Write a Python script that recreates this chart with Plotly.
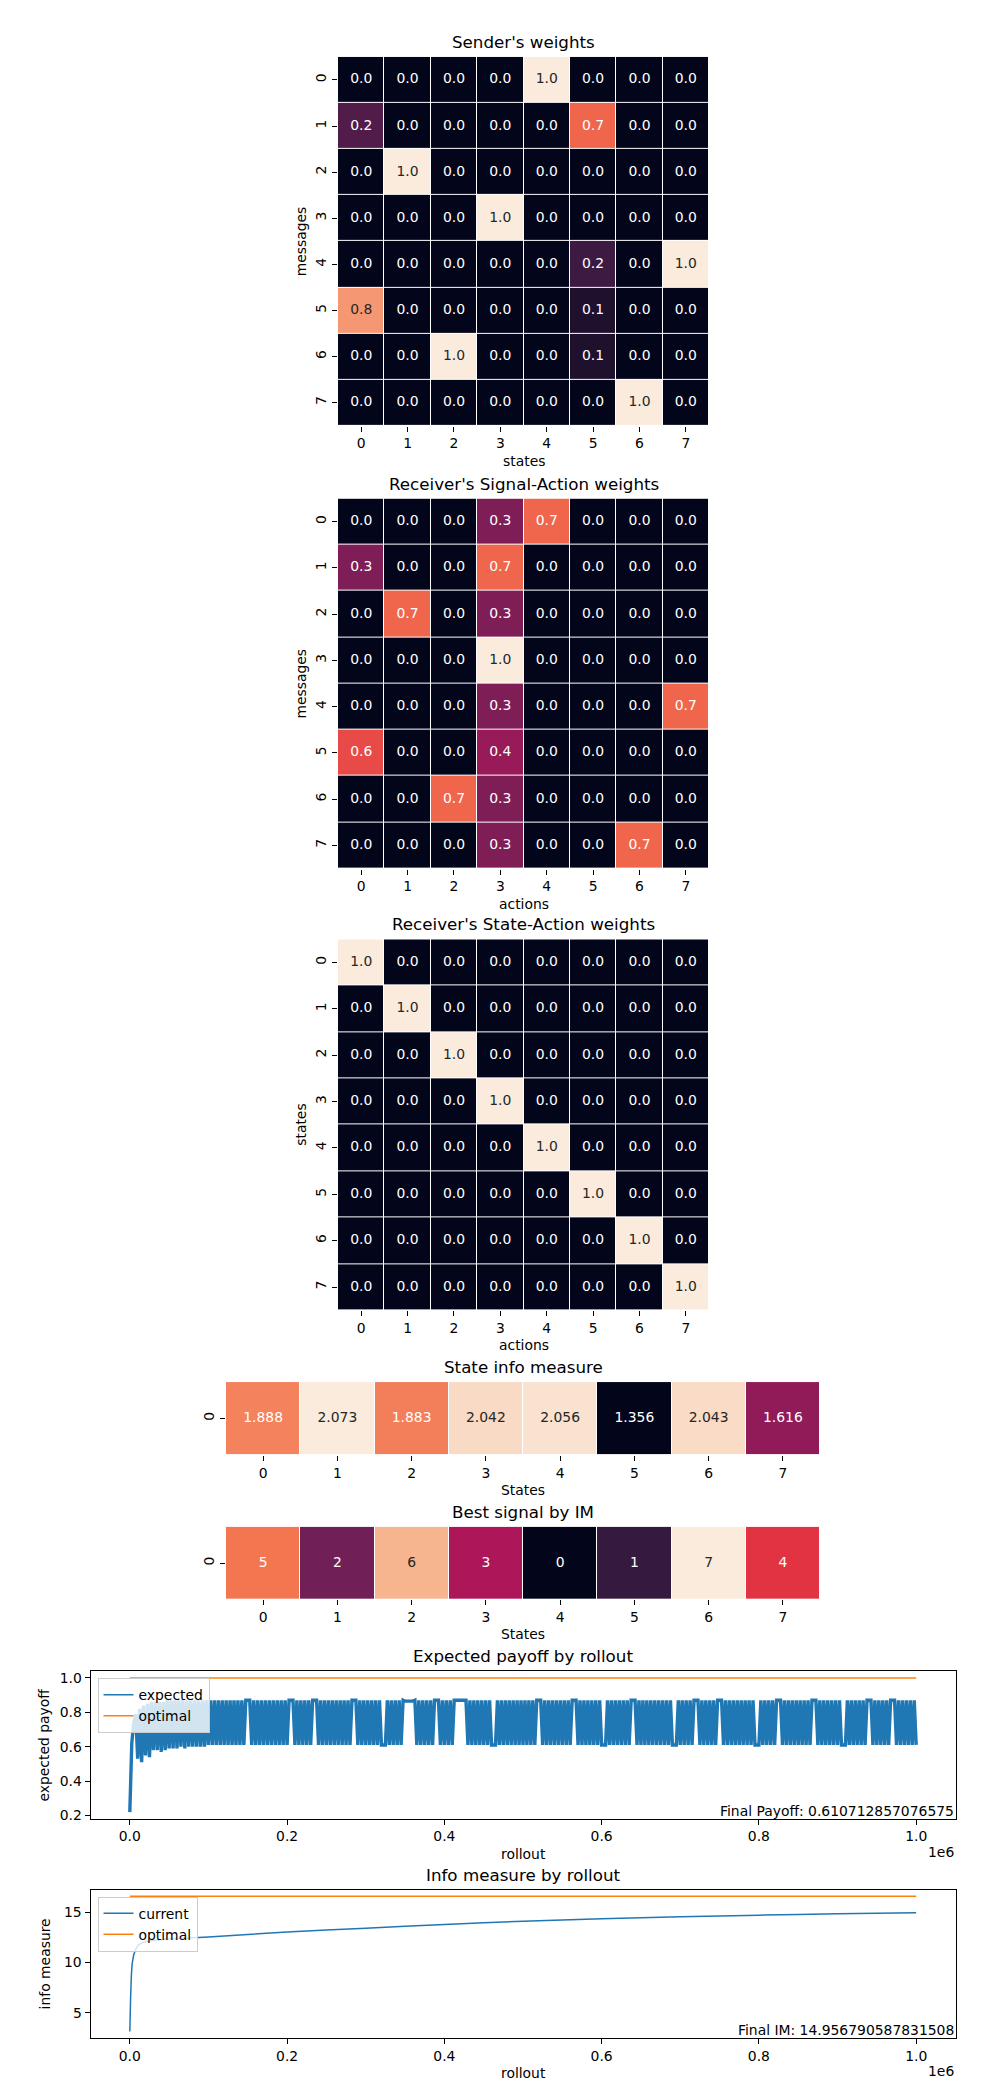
import plotly.graph_objects as go

# ---------------- data ----------------
idx8 = [0, 1, 2, 3, 4, 5, 6, 7]

sender_weights = [
    [0.0, 0.0, 0.0, 0.0, 1.0, 0.0, 0.0, 0.0],
    [0.21, 0.0, 0.0, 0.0, 0.0, 0.68, 0.0, 0.0],
    [0.0, 1.0, 0.0, 0.0, 0.0, 0.0, 0.0, 0.0],
    [0.0, 0.0, 0.0, 1.0, 0.0, 0.0, 0.0, 0.0],
    [0.0, 0.0, 0.0, 0.0, 0.0, 0.16, 0.0, 1.0],
    [0.79, 0.0, 0.0, 0.0, 0.0, 0.08, 0.0, 0.0],
    [0.0, 0.0, 1.0, 0.0, 0.0, 0.08, 0.0, 0.0],
    [0.0, 0.0, 0.0, 0.0, 0.0, 0.0, 1.0, 0.0],
]

signal_action_weights = [
    [0.0, 0.0, 0.0, 0.32, 0.68, 0.0, 0.0, 0.0],
    [0.32, 0.0, 0.0, 0.68, 0.0, 0.0, 0.0, 0.0],
    [0.0, 0.68, 0.0, 0.32, 0.0, 0.0, 0.0, 0.0],
    [0.0, 0.0, 0.0, 1.0, 0.0, 0.0, 0.0, 0.0],
    [0.0, 0.0, 0.0, 0.32, 0.0, 0.0, 0.0, 0.68],
    [0.62, 0.0, 0.0, 0.38, 0.0, 0.0, 0.0, 0.0],
    [0.0, 0.0, 0.68, 0.32, 0.0, 0.0, 0.0, 0.0],
    [0.0, 0.0, 0.0, 0.32, 0.0, 0.0, 0.68, 0.0],
]

state_action_weights = [
    [1.0, 0.0, 0.0, 0.0, 0.0, 0.0, 0.0, 0.0],
    [0.0, 1.0, 0.0, 0.0, 0.0, 0.0, 0.0, 0.0],
    [0.0, 0.0, 1.0, 0.0, 0.0, 0.0, 0.0, 0.0],
    [0.0, 0.0, 0.0, 1.0, 0.0, 0.0, 0.0, 0.0],
    [0.0, 0.0, 0.0, 0.0, 1.0, 0.0, 0.0, 0.0],
    [0.0, 0.0, 0.0, 0.0, 0.0, 1.0, 0.0, 0.0],
    [0.0, 0.0, 0.0, 0.0, 0.0, 0.0, 1.0, 0.0],
    [0.0, 0.0, 0.0, 0.0, 0.0, 0.0, 0.0, 1.0],
]

state_info_measure = [1.888, 2.073, 1.883, 2.042, 2.056, 1.356, 2.043, 1.616]
best_signal_by_im = [5, 2, 6, 3, 0, 1, 7, 4]

payoff_rollout_step = 2500
expected_payoff = [
    0.22, 0.62, 0.74, 0.79, 0.53, 0.82, 0.51, 0.84, 0.55, 0.85, 0.54, 0.86, 0.58, 0.86, 0.58, 0.86, 0.57, 0.86, 0.58, 0.87,
    0.59, 0.87, 0.59, 0.87, 0.59, 0.87, 0.6, 0.87, 0.59, 0.87, 0.6, 0.87, 0.6, 0.87, 0.6, 0.87, 0.6, 0.87, 0.6, 0.87,
    0.61, 0.87, 0.61, 0.87, 0.61, 0.87, 0.61, 0.87, 0.61, 0.87, 0.61, 0.87, 0.61, 0.87, 0.61, 0.87, 0.61, 0.87, 0.61, 0.87,
    0.87, 0.87, 0.61, 0.87, 0.61, 0.87, 0.61, 0.87, 0.61, 0.87, 0.61, 0.87, 0.61, 0.87, 0.61, 0.87, 0.61, 0.87, 0.61, 0.87,
    0.61, 0.87, 0.87, 0.87, 0.61, 0.87, 0.61, 0.87, 0.61, 0.87, 0.61, 0.87, 0.61, 0.87, 0.87, 0.87, 0.61, 0.87, 0.61, 0.87,
    0.61, 0.87, 0.61, 0.87, 0.61, 0.87, 0.61, 0.87, 0.61, 0.87, 0.61, 0.87, 0.61, 0.87, 0.87, 0.87, 0.61, 0.87, 0.61, 0.87,
    0.61, 0.87, 0.61, 0.87, 0.61, 0.87, 0.61, 0.87, 0.61, 0.61, 0.61, 0.87, 0.61, 0.87, 0.61, 0.87, 0.61, 0.87, 0.61, 0.87,
    0.865, 0.865, 0.865, 0.865, 0.865, 0.87, 0.61, 0.87, 0.61, 0.87, 0.61, 0.87, 0.61, 0.87, 0.61, 0.87, 0.87, 0.87, 0.61, 0.87,
    0.61, 0.87, 0.61, 0.87, 0.61, 0.87, 0.87, 0.87, 0.87, 0.87, 0.87, 0.87, 0.61, 0.87, 0.61, 0.87, 0.61, 0.87, 0.61, 0.87,
    0.61, 0.87, 0.61, 0.87, 0.61, 0.61, 0.61, 0.87, 0.61, 0.87, 0.61, 0.87, 0.61, 0.87, 0.61, 0.87, 0.61, 0.87, 0.61, 0.87,
    0.61, 0.87, 0.61, 0.87, 0.61, 0.87, 0.61, 0.87, 0.87, 0.87, 0.61, 0.87, 0.61, 0.87, 0.61, 0.87, 0.61, 0.87, 0.61, 0.87,
    0.61, 0.87, 0.61, 0.87, 0.61, 0.87, 0.87, 0.87, 0.61, 0.87, 0.61, 0.87, 0.61, 0.87, 0.61, 0.87, 0.61, 0.87, 0.61, 0.87,
    0.61, 0.61, 0.61, 0.87, 0.61, 0.87, 0.61, 0.87, 0.61, 0.87, 0.61, 0.87, 0.61, 0.87, 0.61, 0.87, 0.87, 0.87, 0.61, 0.87,
    0.61, 0.87, 0.61, 0.87, 0.61, 0.87, 0.61, 0.87, 0.61, 0.87, 0.61, 0.87, 0.61, 0.87, 0.61, 0.87, 0.61, 0.61, 0.61, 0.87,
    0.61, 0.87, 0.61, 0.87, 0.61, 0.87, 0.61, 0.87, 0.87, 0.87, 0.61, 0.87, 0.61, 0.87, 0.61, 0.87, 0.61, 0.87, 0.61, 0.87,
    0.87, 0.87, 0.61, 0.87, 0.61, 0.87, 0.61, 0.87, 0.61, 0.87, 0.61, 0.87, 0.61, 0.87, 0.61, 0.87, 0.61, 0.87, 0.61, 0.61,
    0.61, 0.87, 0.61, 0.87, 0.61, 0.87, 0.61, 0.87, 0.61, 0.87, 0.87, 0.87, 0.61, 0.87, 0.61, 0.87, 0.61, 0.87, 0.61, 0.87,
    0.61, 0.87, 0.61, 0.87, 0.61, 0.87, 0.61, 0.87, 0.87, 0.87, 0.61, 0.87, 0.61, 0.87, 0.61, 0.87, 0.61, 0.87, 0.61, 0.87,
    0.61, 0.87, 0.61, 0.61, 0.61, 0.87, 0.61, 0.87, 0.61, 0.87, 0.61, 0.87, 0.61, 0.87, 0.61, 0.87, 0.87, 0.87, 0.61, 0.87,
    0.61, 0.87, 0.61, 0.87, 0.61, 0.87, 0.61, 0.87, 0.87, 0.87, 0.61, 0.87, 0.61, 0.87, 0.61, 0.87, 0.61, 0.87, 0.61, 0.87,
    0.610712857076575,
]
optimal_payoff = 1.0

im_rollouts = [0, 1000, 2000, 3000, 5000, 7500, 10000, 15000, 20000, 30000, 50000, 75000, 100000,
               150000, 200000, 250000, 300000, 350000, 400000, 450000, 500000, 550000, 600000,
               650000, 700000, 750000, 800000, 850000, 900000, 950000, 1000000]
im_current = [3.14, 6.5, 8.8, 9.9, 10.8, 11.3, 11.7, 11.95, 12.1, 12.2, 12.35, 12.45, 12.55,
              12.8, 13.05, 13.25, 13.42, 13.62, 13.8, 13.98, 14.12, 14.25, 14.37,
              14.47, 14.57, 14.65, 14.73, 14.8, 14.86, 14.91, 14.956790587831508]
optimal_im = 16.6

x_tick_values = [0, 200000, 400000, 600000, 800000, 1000000]
payoff_ticks = [0.2, 0.4, 0.6, 0.8, 1.0]
im_ticks = [5, 10, 15]

# ---------------- style ----------------
FONT = "DejaVu Sans"
FS = 13.9
TITLE_FS = 16.7
W, H = 1000, 2100
BLUE = "#1f77b4"
ORANGE = "#ff7f0e"

rocket_stops = [
    (0.0, "#03051a"), (1 / 7, "#35193e"), (2 / 7, "#701f57"), (3 / 7, "#ad1759"),
    (4 / 7, "#e13342"), (5 / 7, "#f37651"), (6 / 7, "#f6b48f"), (1.0, "#faebdd"),
]
rocket_scale = [[p, c] for p, c in rocket_stops]


def hex_rgb(h):
    h = h.lstrip("#")
    return [int(h[i:i + 2], 16) for i in (0, 2, 4)]


def rocket_rgb(t):
    t = min(max(t, 0.0), 1.0)
    for (p0, c0), (p1, c1) in zip(rocket_stops[:-1], rocket_stops[1:]):
        if p0 <= t <= p1:
            f = (t - p0) / (p1 - p0) if p1 > p0 else 0
            a, b = hex_rgb(c0), hex_rgb(c1)
            return [a[i] + (b[i] - a[i]) * f for i in range(3)]
    return hex_rgb(rocket_stops[-1][1])


def text_color(t):
    rgb = [v / 255 for v in rocket_rgb(t)]
    lin = [v / 12.92 if v <= 0.03928 else ((v + 0.055) / 1.055) ** 2.4 for v in rgb]
    lum = 0.2126 * lin[0] + 0.7152 * lin[1] + 0.0722 * lin[2]
    return "#262626" if lum > 0.408 else "#ffffff"


def xdom(p0, p1):
    return [p0 / W, p1 / W]


def ydom(p0, p1):
    return [1 - p1 / H, 1 - p0 / H]


fig = go.Figure()
annotations = []


def axis_names(n):
    s = "" if n == 1 else str(n)
    return "x" + s, "y" + s, "xaxis" + s, "yaxis" + s


def add_title(text, xd, yd):
    annotations.append(dict(text=text, xref="paper", yref="paper", x=(xd[0] + xd[1]) / 2, y=yd[1],
                            xanchor="center", yanchor="middle", yshift=15, showarrow=False,
                            font=dict(family=FONT, size=TITLE_FS, color="black")))


def add_xlabel(text, xd, yd):
    annotations.append(dict(text=text, xref="paper", yref="paper", x=(xd[0] + xd[1]) / 2, y=yd[0],
                            xanchor="center", yanchor="middle", yshift=-35, showarrow=False,
                            font=dict(family=FONT, size=FS, color="black")))


def add_ylabel(text, xd, yd, shift):
    annotations.append(dict(text=text, xref="paper", yref="paper", x=xd[0], y=(yd[0] + yd[1]) / 2,
                            xanchor="center", yanchor="middle", xshift=-shift, textangle=-90,
                            showarrow=False, font=dict(family=FONT, size=FS, color="black")))


def add_heatmap(n, z, fmt, xd, yd, title, xlabel, ylabel):
    xa, ya, xk, yk = axis_names(n)
    rows = len(z)
    cols = len(z[0])
    flat = [v for r in z for v in r]
    zmin, zmax = min(flat), max(flat)
    fig.add_trace(go.Heatmap(z=z, x=idx8[:cols], y=list(range(rows)), colorscale=rocket_scale,
                             zmin=zmin, zmax=zmax, showscale=False, xgap=1, ygap=1,
                             xaxis=xa, yaxis=ya, hoverinfo="skip"))
    tx, ty, tt, tc = [], [], [], []
    for r in range(rows):
        for c in range(cols):
            v = z[r][c]
            tx.append(c)
            ty.append(r)
            tt.append(format(v, fmt))
            tc.append(text_color((v - zmin) / (zmax - zmin)))
    fig.add_trace(go.Scatter(x=tx, y=ty, text=tt, mode="text", textposition="middle center",
                             textfont=dict(family=FONT, size=FS, color=tc), showlegend=False,
                             hoverinfo="skip", xaxis=xa, yaxis=ya))
    axfont = dict(family=FONT, size=FS, color="black")
    fig.layout[xk] = dict(domain=xd, anchor=ya, range=[-0.5, cols - 0.5], tickvals=idx8[:cols],
                          ticks="outside", ticklen=5, tickwidth=1, tickcolor="black",
                          showgrid=False, zeroline=False, showline=False, tickfont=axfont)
    fig.layout[yk] = dict(domain=yd, anchor=xa, range=[rows - 0.5, -0.5], tickvals=list(range(rows)),
                          ticks="outside", ticklen=5, tickwidth=1, tickcolor="black", tickangle=-90,
                          showgrid=False, zeroline=False, showline=False, tickfont=axfont)
    add_title(title, xd, yd)
    add_xlabel(xlabel, xd, yd)
    if ylabel:
        add_ylabel(ylabel, xd, yd, 37)


sq_x = xdom(330, 701)
add_heatmap(1, sender_weights, ".1f", sq_x, ydom(48, 418), "Sender's weights", "states", "messages")
add_heatmap(2, signal_action_weights, ".1f", sq_x, ydom(491, 862),
            "Receiver's Signal-Action weights", "actions", "messages")
add_heatmap(3, state_action_weights, ".1f", sq_x, ydom(933, 1305),
            "Receiver's State-Action weights", "actions", "states")
wide_x = xdom(218, 812)
add_heatmap(4, [state_info_measure], ".3f", wide_x, ydom(1377, 1450), "State info measure", "States", None)
add_heatmap(5, [best_signal_by_im], "d", wide_x, ydom(1522, 1595), "Best signal by IM", "States", None)


def add_lineplot(n, xs, ys, opt, names, legend_name, xd, yd, title, ylabel, yticks, ytickfmt,
                 final_text, current_width):
    xa, ya, xk, yk = axis_names(n)
    # the data line (dense oscillation needs a wider stroke to render as the solid band of the original)
    fig.add_trace(go.Scatter(x=xs, y=ys, mode="lines",
                             line=dict(color=BLUE, width=current_width, simplify=False),
                             name=names[0], showlegend=False, xaxis=xa, yaxis=ya, hoverinfo="skip"))
    # legend entry with the regular 1.5 px stroke
    fig.add_trace(go.Scatter(x=[None], y=[None], mode="lines", line=dict(color=BLUE, width=1.5),
                             name=names[0], legend=legend_name, xaxis=xa, yaxis=ya, hoverinfo="skip"))
    fig.add_trace(go.Scatter(x=xs, y=[opt for _ in xs], mode="lines", line=dict(color=ORANGE, width=1.5),
                             name=names[1], legend=legend_name, xaxis=xa, yaxis=ya, hoverinfo="skip"))
    xmin, xmax = min(xs), max(xs)
    xm = 0.05 * (xmax - xmin)
    ymin, ymax = min(min(ys), opt), max(max(ys), opt)
    ym = 0.05 * (ymax - ymin)
    axfont = dict(family=FONT, size=FS, color="black")
    fig.layout[xk] = dict(domain=xd, anchor=ya, range=[xmin - xm, xmax + xm], tickvals=x_tick_values,
                          ticktext=[f"{v / 1e6:.1f}" for v in x_tick_values],
                          ticks="outside", ticklen=5, tickwidth=1, tickcolor="black",
                          showline=True, linecolor="black", linewidth=1, mirror=True,
                          showgrid=False, zeroline=False, tickfont=axfont)
    fig.layout[yk] = dict(domain=yd, anchor=xa, range=[ymin - ym, ymax + ym], tickvals=yticks,
                          tickformat=ytickfmt, ticks="outside", ticklen=5, tickwidth=1, tickcolor="black",
                          showline=True, linecolor="black", linewidth=1, mirror=True,
                          showgrid=False, zeroline=False, tickfont=axfont)
    add_title(title, xd, yd)
    add_xlabel("rollout", xd, yd)
    add_ylabel(ylabel, xd, yd, 46)
    annotations.append(dict(text="1e6", xref="paper", yref="paper", x=xd[1], y=yd[0], xanchor="right",
                            yanchor="middle", yshift=-33, showarrow=False,
                            font=dict(family=FONT, size=FS, color="black")))
    annotations.append(dict(text=final_text, xref="paper", yref="paper", x=xd[1], y=yd[0], xanchor="right",
                            yanchor="middle", yshift=8, showarrow=False,
                            font=dict(family=FONT, size=FS, color="black")))
    fig.layout[legend_name] = dict(x=xd[0] + 7 / W, y=yd[1] - 7 / H, xanchor="left", yanchor="top",
                                   bgcolor="rgba(255,255,255,0.8)", bordercolor="#cccccc", borderwidth=1,
                                   font=dict(family=FONT, size=FS, color="black"), tracegroupgap=0)


line_x = xdom(82.5, 947.5)
payoff_rollouts = [i * payoff_rollout_step for i in range(len(expected_payoff))]
add_lineplot(6, payoff_rollouts, expected_payoff, optimal_payoff, ["expected", "optimal"], "legend",
             line_x, ydom(1667, 1815), "Expected payoff by rollout", "expected payoff",
             payoff_ticks, ".1f", f"Final Payoff: {expected_payoff[-1]}", 3.4)
add_lineplot(7, im_rollouts, im_current, optimal_im, ["current", "optimal"], "legend2",
             line_x, ydom(1886, 2035), "Info measure by rollout", "info measure",
             im_ticks, "d", f"Final IM: {im_current[-1]}", 1.5)

fig.update_layout(width=W, height=H, margin=dict(l=0, r=0, t=0, b=0), autosize=False,
                  paper_bgcolor="white", plot_bgcolor="white", annotations=annotations,
                  font=dict(family=FONT, size=FS, color="black"), showlegend=True)

fig.write_html("out.html")
